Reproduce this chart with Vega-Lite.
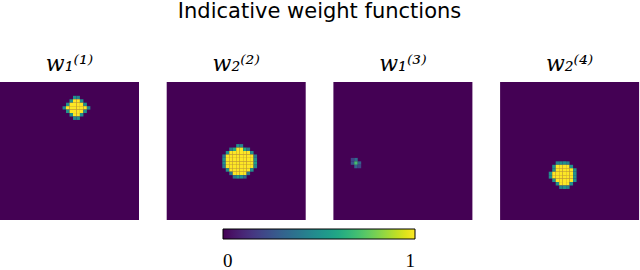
{
  "$schema": "https://vega.github.io/schema/vega-lite/v6.json",
  "padding": {"top": 1, "left": 0, "right": 0, "bottom": 0},
  "background": "white",
  "title": {"text": "Indicative weight functions", "font": "DejaVu Sans", "fontSize": 21, "fontWeight": "normal", "color": "black", "anchor": "middle", "offset": 31},
  "data": {"values": [
    {"p":1,"i":21,"j":4,"v":0.5},{"p":1,"i":22,"j":4,"v":0.45},
    {"p":1,"i":20,"j":5,"v":0.5},{"p":1,"i":21,"j":5,"v":1},{"p":1,"i":22,"j":5,"v":1},{"p":1,"i":23,"j":5,"v":0.5},
    {"p":1,"i":19,"j":6,"v":0.5},{"p":1,"i":20,"j":6,"v":1},{"p":1,"i":21,"j":6,"v":1},{"p":1,"i":22,"j":6,"v":1},{"p":1,"i":23,"j":6,"v":1},{"p":1,"i":24,"j":6,"v":0.5},
    {"p":1,"i":18,"j":7,"v":0.45},{"p":1,"i":19,"j":7,"v":1},{"p":1,"i":20,"j":7,"v":1},{"p":1,"i":21,"j":7,"v":1},{"p":1,"i":22,"j":7,"v":1},{"p":1,"i":23,"j":7,"v":1},{"p":1,"i":24,"j":7,"v":1},{"p":1,"i":25,"j":7,"v":0.45},
    {"p":1,"i":19,"j":8,"v":0.5},{"p":1,"i":20,"j":8,"v":1},{"p":1,"i":21,"j":8,"v":1},{"p":1,"i":22,"j":8,"v":1},{"p":1,"i":23,"j":8,"v":1},{"p":1,"i":24,"j":8,"v":0.5},
    {"p":1,"i":20,"j":9,"v":0.5},{"p":1,"i":21,"j":9,"v":1},{"p":1,"i":22,"j":9,"v":1},{"p":1,"i":23,"j":9,"v":0.5},
    {"p":1,"i":21,"j":10,"v":0.45},{"p":1,"i":22,"j":10,"v":0.5},

    {"p":2,"i":20,"j":18,"v":0.5},{"p":2,"i":21,"j":18,"v":0.45},
    {"p":2,"i":18,"j":19,"v":0.4},{"p":2,"i":19,"j":19,"v":0.6},{"p":2,"i":20,"j":19,"v":1},{"p":2,"i":21,"j":19,"v":1},{"p":2,"i":22,"j":19,"v":0.6},{"p":2,"i":23,"j":19,"v":0.4},
    {"p":2,"i":17,"j":20,"v":0.5},{"p":2,"i":18,"j":20,"v":1},{"p":2,"i":19,"j":20,"v":1},{"p":2,"i":20,"j":20,"v":1},{"p":2,"i":21,"j":20,"v":1},{"p":2,"i":22,"j":20,"v":1},{"p":2,"i":23,"j":20,"v":1},{"p":2,"i":24,"j":20,"v":0.5},
    {"p":2,"i":16,"j":21,"v":0.4},{"p":2,"i":17,"j":21,"v":1},{"p":2,"i":18,"j":21,"v":1},{"p":2,"i":19,"j":21,"v":1},{"p":2,"i":20,"j":21,"v":1},{"p":2,"i":21,"j":21,"v":1},{"p":2,"i":22,"j":21,"v":1},{"p":2,"i":23,"j":21,"v":1},{"p":2,"i":24,"j":21,"v":1},{"p":2,"i":25,"j":21,"v":0.4},
    {"p":2,"i":16,"j":22,"v":0.5},{"p":2,"i":17,"j":22,"v":1},{"p":2,"i":18,"j":22,"v":1},{"p":2,"i":19,"j":22,"v":1},{"p":2,"i":20,"j":22,"v":1},{"p":2,"i":21,"j":22,"v":1},{"p":2,"i":22,"j":22,"v":1},{"p":2,"i":23,"j":22,"v":1},{"p":2,"i":24,"j":22,"v":1},{"p":2,"i":25,"j":22,"v":0.5},
    {"p":2,"i":16,"j":23,"v":0.5},{"p":2,"i":17,"j":23,"v":1},{"p":2,"i":18,"j":23,"v":1},{"p":2,"i":19,"j":23,"v":1},{"p":2,"i":20,"j":23,"v":1},{"p":2,"i":21,"j":23,"v":1},{"p":2,"i":22,"j":23,"v":1},{"p":2,"i":23,"j":23,"v":1},{"p":2,"i":24,"j":23,"v":1},{"p":2,"i":25,"j":23,"v":0.55},
    {"p":2,"i":16,"j":24,"v":0.4},{"p":2,"i":17,"j":24,"v":1},{"p":2,"i":18,"j":24,"v":1},{"p":2,"i":19,"j":24,"v":1},{"p":2,"i":20,"j":24,"v":1},{"p":2,"i":21,"j":24,"v":1},{"p":2,"i":22,"j":24,"v":1},{"p":2,"i":23,"j":24,"v":1},{"p":2,"i":24,"j":24,"v":1},{"p":2,"i":25,"j":24,"v":0.45},
    {"p":2,"i":17,"j":25,"v":0.5},{"p":2,"i":18,"j":25,"v":1},{"p":2,"i":19,"j":25,"v":1},{"p":2,"i":20,"j":25,"v":1},{"p":2,"i":21,"j":25,"v":1},{"p":2,"i":22,"j":25,"v":1},{"p":2,"i":23,"j":25,"v":1},{"p":2,"i":24,"j":25,"v":0.5},
    {"p":2,"i":18,"j":26,"v":0.4},{"p":2,"i":19,"j":26,"v":1},{"p":2,"i":20,"j":26,"v":1},{"p":2,"i":21,"j":26,"v":1},{"p":2,"i":22,"j":26,"v":1},{"p":2,"i":23,"j":26,"v":0.4},
    {"p":2,"i":19,"j":27,"v":0.4},{"p":2,"i":20,"j":27,"v":0.55},{"p":2,"i":21,"j":27,"v":0.5},{"p":2,"i":22,"j":27,"v":0.35},

    {"p":3,"i":5,"j":22,"v":0.2},{"p":3,"i":6,"j":22,"v":0.35},
    {"p":3,"i":5,"j":23,"v":0.25},{"p":3,"i":6,"j":23,"v":0.7},{"p":3,"i":7,"j":23,"v":0.3},
    {"p":3,"i":6,"j":24,"v":0.3},{"p":3,"i":7,"j":24,"v":0.2},

    {"p":4,"i":16,"j":23,"v":0.45},{"p":4,"i":17,"j":23,"v":0.5},{"p":4,"i":18,"j":23,"v":0.5},{"p":4,"i":19,"j":23,"v":0.45},
    {"p":4,"i":15,"j":24,"v":0.5},{"p":4,"i":16,"j":24,"v":1},{"p":4,"i":17,"j":24,"v":1},{"p":4,"i":18,"j":24,"v":1},{"p":4,"i":19,"j":24,"v":1},{"p":4,"i":20,"j":24,"v":0.5},
    {"p":4,"i":15,"j":25,"v":0.5},{"p":4,"i":16,"j":25,"v":1},{"p":4,"i":17,"j":25,"v":1},{"p":4,"i":18,"j":25,"v":1},{"p":4,"i":19,"j":25,"v":1},{"p":4,"i":20,"j":25,"v":1},{"p":4,"i":21,"j":25,"v":0.5},
    {"p":4,"i":14,"j":26,"v":0.5},{"p":4,"i":15,"j":26,"v":1},{"p":4,"i":16,"j":26,"v":1},{"p":4,"i":17,"j":26,"v":1},{"p":4,"i":18,"j":26,"v":1},{"p":4,"i":19,"j":26,"v":1},{"p":4,"i":20,"j":26,"v":1},{"p":4,"i":21,"j":26,"v":0.5},
    {"p":4,"i":14,"j":27,"v":0.5},{"p":4,"i":15,"j":27,"v":1},{"p":4,"i":16,"j":27,"v":1},{"p":4,"i":17,"j":27,"v":1},{"p":4,"i":18,"j":27,"v":1},{"p":4,"i":19,"j":27,"v":1},{"p":4,"i":20,"j":27,"v":1},{"p":4,"i":21,"j":27,"v":0.5},
    {"p":4,"i":15,"j":28,"v":0.5},{"p":4,"i":16,"j":28,"v":1},{"p":4,"i":17,"j":28,"v":1},{"p":4,"i":18,"j":28,"v":1},{"p":4,"i":19,"j":28,"v":1},{"p":4,"i":20,"j":28,"v":1},{"p":4,"i":21,"j":28,"v":0.5},
    {"p":4,"i":16,"j":29,"v":0.5},{"p":4,"i":17,"j":29,"v":1},{"p":4,"i":18,"j":29,"v":1},{"p":4,"i":19,"j":29,"v":1},{"p":4,"i":20,"j":29,"v":0.5},
    {"p":4,"i":17,"j":30,"v":0.45},{"p":4,"i":18,"j":30,"v":0.5},{"p":4,"i":19,"j":30,"v":0.45}
  ]},
  "facet": {
    "column": {
      "field": "p", "type": "ordinal", "title": null,
      "header": {"labelExpr": "['', 'w₁⁽¹⁾', 'w₂⁽²⁾', 'w₁⁽³⁾', 'w₂⁽⁴⁾'][datum.value]", "labelFont": "DejaVu Serif", "labelFontStyle": "italic", "labelFontWeight": "normal", "labelFontSize": 22, "labelColor": "black", "labelPadding": 6}
    }
  },
  "spacing": 27.7,
  "spec": {
    "width": 139,
    "height": 138,
    "mark": {"type": "rect"},
    "encoding": {
      "x": {"field": "i", "type": "ordinal", "axis": null, "scale": {"domain": [0,1,2,3,4,5,6,7,8,9,10,11,12,13,14,15,16,17,18,19,20,21,22,23,24,25,26,27,28,29,30,31,32,33,34,35,36,37,38,39], "paddingInner": 0, "paddingOuter": 0}},
      "y": {"field": "j", "type": "ordinal", "axis": null, "scale": {"domain": [0,1,2,3,4,5,6,7,8,9,10,11,12,13,14,15,16,17,18,19,20,21,22,23,24,25,26,27,28,29,30,31,32,33,34,35,36,37,38,39], "paddingInner": 0, "paddingOuter": 0}},
      "color": {
        "field": "v", "type": "quantitative",
        "scale": {"scheme": "viridis", "domain": [0, 1]},
        "legend": {"orient": "none", "legendX": 223, "legendY": 147, "direction": "horizontal", "title": null, "values": [0, 1], "format": ".0f", "gradientLength": 192, "gradientThickness": 10, "gradientStrokeColor": "black", "gradientStrokeWidth": 1, "labelFont": "Liberation Serif", "labelFontSize": 19, "labelColor": "black", "labelAlign": "center", "labelOffset": 13, "padding": 0}
      }
    }
  },
  "config": {
    "view": {"fill": "#440154", "stroke": null}
  }
}
